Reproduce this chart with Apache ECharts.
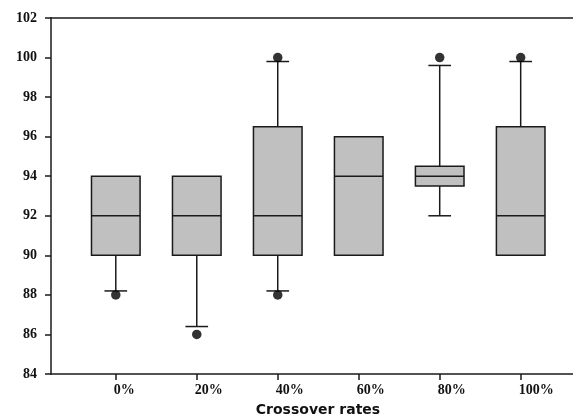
<!DOCTYPE html>
<html><head><meta charset="utf-8">
<script src="https://cdn.jsdelivr.net/npm/echarts@6/dist/echarts.min.js"></script>
<style>html,body{margin:0;padding:0;background:#fff}#c{width:573px;height:419px}</style>
</head><body><div id="c"></div>
<script>
var categories = ['0%', '20%', '40%', '60%', '80%', '100%'];
var q1 = [90, 90, 90, 90, 93.5, 90];
var median = [92, 92, 92, 94, 94, 92];
var q3 = [94, 94, 96.5, 96, 94.5, 96.5];
var whiskerLow = [88.2, 86.4, 88.2, null, 92, null];
var whiskerHigh = [null, null, 99.8, null, 99.6, 99.8];
var outlierCat = [0, 1, 2, 2, 4, 5];
var outlierVal = [88, 86, 88, 100, 100, 100];
var yTicks = [84, 86, 88, 90, 92, 94, 96, 98, 100, 102];

var boxData = categories.map(function (c, i) {
  return [i, q1[i], median[i], q3[i], whiskerLow[i], whiskerHigh[i]];
});
var outData = outlierCat.map(function (c, i) { return [c, outlierVal[i]]; });

var lineColor = '#1a1a1a';
var chart = echarts.init(document.getElementById('c'));
chart.setOption({
  animation: false,
  grid: { left: 51, right: 0, top: 18, bottom: 45, containLabel: false, outerBoundsMode: 'none' },
  xAxis: [{
    type: 'value', min: -0.8, max: 5.646, interval: 1,
    axisLine: { show: true, onZero: false, lineStyle: { color: lineColor, width: 1.5 } },
    axisTick: { show: true, length: 6, lineStyle: { color: lineColor, width: 1.5 },
      customValues: [0, 1, 2, 3, 4, 5] },
    splitLine: { show: false },
    axisLabel: {
      customValues: [0, 1, 2, 3, 4, 5],
      formatter: function (v) { return categories[Math.round(v)]; },
      fontFamily: 'Liberation Serif', fontWeight: 'bold', fontSize: 14, color: '#111',
      align: 'left', margin: 9, padding: [0, 0, 0, -2]
    },
    name: 'Crossover rates', nameLocation: 'middle', nameGap: 29,
    nameTextStyle: { fontFamily: 'DejaVu Sans', fontWeight: 'bold', fontSize: 14, color: '#111', padding: [0, 0, 0, 12] }
  }, {
    type: 'value', position: 'top', min: -0.8, max: 5.646,
    axisLine: { show: true, onZero: false, lineStyle: { color: lineColor, width: 1.5 } },
    axisTick: { show: false }, axisLabel: { show: false }, splitLine: { show: false }
  }],
  yAxis: {
    type: 'value', min: 84, max: 102, interval: 2,
    axisLine: { show: true, onZero: false, lineStyle: { color: lineColor, width: 1.5 } },
    axisTick: { show: true, length: 6, lineStyle: { color: lineColor, width: 1.5 } },
    splitLine: { show: false },
    axisLabel: {
      customValues: yTicks,
      fontFamily: 'Liberation Serif', fontWeight: 'bold', fontSize: 14, color: '#111', margin: 14
    }
  },
  series: [{
    type: 'custom',
    data: boxData,
    encode: { x: 0, y: [1, 2, 3, 4, 5] },
    renderItem: function (params, api) {
      var x = api.value(0);
      var band = api.size([1, 0])[0];
      var bw = band * 0.6, cw = band * 0.28;
      var pQ1 = api.coord([x, api.value(1)]);
      var pMed = api.coord([x, api.value(2)]);
      var pQ3 = api.coord([x, api.value(3)]);
      var cx = pQ1[0];
      var children = [];
      var ls = { stroke: lineColor, lineWidth: 1.5 };
      var lo = boxData[params.dataIndex][4], hi = boxData[params.dataIndex][5];
      if (lo != null) {
        var pLo = api.coord([x, lo]);
        children.push({ type: 'line', shape: { x1: cx, y1: pQ1[1], x2: cx, y2: pLo[1] }, style: ls });
        children.push({ type: 'line', shape: { x1: cx - cw / 2, y1: pLo[1], x2: cx + cw / 2, y2: pLo[1] }, style: ls });
      }
      if (hi != null) {
        var pHi = api.coord([x, hi]);
        children.push({ type: 'line', shape: { x1: cx, y1: pQ3[1], x2: cx, y2: pHi[1] }, style: ls });
        children.push({ type: 'line', shape: { x1: cx - cw / 2, y1: pHi[1], x2: cx + cw / 2, y2: pHi[1] }, style: ls });
      }
      children.push({ type: 'rect', shape: { x: cx - bw / 2, y: pQ3[1], width: bw, height: pQ1[1] - pQ3[1] },
        style: { fill: '#c0c0c0', stroke: lineColor, lineWidth: 1.5 } });
      children.push({ type: 'line', shape: { x1: cx - bw / 2, y1: pMed[1], x2: cx + bw / 2, y2: pMed[1] }, style: ls });
      return { type: 'group', children: children };
    }
  }, {
    type: 'scatter', data: outData, symbol: 'circle', symbolSize: 9.5,
    itemStyle: { color: '#000' }, z: 5
  }]
});
</script></body></html>
